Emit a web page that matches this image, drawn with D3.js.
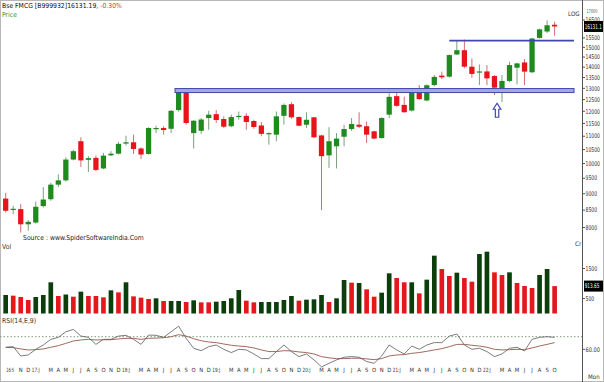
<!DOCTYPE html>
<html>
<head>
<meta charset="utf-8">
<script src="https://cdn.jsdelivr.net/npm/d3@7"></script>
<style>
  body { margin: 0; background: #fff; }
  svg { display: block; font-family: "Liberation Sans Narrow", "DejaVu Sans Condensed", "Liberation Sans", sans-serif; }
</style>
</head>
<body>
<div id="chart"></div>
<script>
// Monthly bars, Sep 2016 .. Oct 2022
const months = [
  "Sep 16","Oct 16","Nov 16","Dec 16",
  "Jan 17","Feb 17","Mar 17","Apr 17","May 17","Jun 17","Jul 17","Aug 17","Sep 17","Oct 17","Nov 17","Dec 17",
  "Jan 18","Feb 18","Mar 18","Apr 18","May 18","Jun 18","Jul 18","Aug 18","Sep 18","Oct 18","Nov 18","Dec 18",
  "Jan 19","Feb 19","Mar 19","Apr 19","May 19","Jun 19","Jul 19","Aug 19","Sep 19","Oct 19","Nov 19","Dec 19",
  "Jan 20","Feb 20","Mar 20","Apr 20","May 20","Jun 20","Jul 20","Aug 20","Sep 20","Oct 20","Nov 20","Dec 20",
  "Jan 21","Feb 21","Mar 21","Apr 21","May 21","Jun 21","Jul 21","Aug 21","Sep 21","Oct 21","Nov 21","Dec 21",
  "Jan 22","Feb 22","Mar 22","Apr 22","May 22","Jun 22","Jul 22","Aug 22","Sep 22","Oct 22"
];

const tickLabels = [
  "16:S","","N","D",
  "17:J","","M","A","M","J","J","A","S","O","N","D",
  "18:J","","M","A","M","J","J","A","S","O","N","D",
  "19:J","","M","A","M","J","J","A","S","O","N","D",
  "20:J","","M","A","M","J","J","A","S","O","N","D",
  "21:J","","M","A","M","J","J","A","S","O","N","D",
  "22:J","","M","A","M","J","J","A","S","O"
];

const open = [8850,8510,8530,8090,8140,8620,8830,9290,9430,10140,10810,10130,10200,9830,10290,10350,
  10720,10770,10540,10340,11280,11320,11290,12050,12820,11120,11210,11720,
  11880,11680,11390,11760,11810,11600,11420,11090,11060,11810,12300,11760,
  11450,11750,11030,10290,10620,10980,11280,11450,11390,11190,10930,11860,
  12650,12270,12030,12880,12460,13150,13590,13540,14630,14850,14020,13760,
  13790,13570,12970,13340,13970,14230,13750,15500,15850,16230];
const high = [9030,8630,8680,8210,8760,9210,9350,9630,10220,10490,10960,10260,10290,10380,10440,10780,
  11020,11060,10580,11350,11410,11390,12050,12970,12880,11640,11720,12020,
  12050,11790,11860,11990,11920,11650,11560,11150,11990,12330,12390,11790,
  11960,11770,11060,11350,11120,11450,11720,11960,11580,11210,11750,12780,
  12820,12630,12930,13150,13180,13620,13780,14630,15380,15410,14430,14130,
  14100,13620,13620,14260,14220,14400,15500,16010,16480,16390];
const low = [8430,8380,7860,7910,8110,8580,8780,9210,9390,10110,9880,9710,9740,9800,10260,10320,
  10650,10340,10160,10320,11120,11060,11120,11990,11450,10540,11090,11250,
  11520,11320,11350,11650,11250,11290,11000,10680,10810,11450,11690,11390,
  11320,10930,8500,9850,9830,10620,11210,11320,10740,10880,10910,11720,
  12190,11940,11990,12490,12420,13090,13430,13490,14600,13940,13490,13150,
  13150,12700,12390,13280,13180,13150,13710,15460,15770,15620];
const close = [8480,8540,8090,8160,8600,8820,9290,9430,10140,10440,10110,10190,9780,10280,10350,10710,
  10770,10520,10320,11320,11320,11240,12020,12880,11520,11610,11660,11860,
  11640,11370,11760,11810,11560,11360,11090,11120,11790,12270,11750,11410,
  11650,10960,10260,10810,10910,11280,11480,11370,11060,10910,11720,12620,
  12230,11960,12880,12520,13140,13530,13510,14600,14850,14020,13670,13790,
  13460,13030,13340,14100,14180,13780,15470,15970,16200,16131.19];

// volume (Cr) and its bar colour (1 = up, 0 = down)
const volume = [617,595,550,450,550,617,1040,583,633,561,728,583,583,539,772,705,
  1040,572,528,483,506,417,417,417,383,439,372,372,394,417,506,783,428,372,383,383,
  383,450,583,428,461,472,617,383,506,1117,1028,1017,806,561,694,1339,1183,1040,
  1040,672,1128,1928,1483,1250,1361,1183,1061,1983,2061,1372,1283,1372,1017,917,
  850,1283,1483,913.65];
const volumeUp = [1,0,0,0,1,1,1,0,1,0,1,0,0,0,1,0,1,0,0,0,1,0,1,1,0,1,0,0,1,1,1,1,0,0,1,1,1,1,1,0,
  1,1,1,0,1,1,0,1,0,0,1,1,0,0,1,0,1,1,0,0,1,0,0,1,1,0,0,1,0,0,0,1,1,0];

// RSI(14) and its 9 period average
const rsi = [61.6,62.1,54.7,55.5,60.0,63.4,67.9,69.5,73.9,75.8,70.5,69.5,63.9,67.9,67.9,70.5,
  71.1,67.9,63.9,71.3,71.1,69.5,73.9,78.4,68.7,60.8,58.9,62.1,63.4,60.0,57.4,60.0,
  59.5,56.3,52.6,52.6,58.2,63.4,58.2,54.2,56.3,51.6,46.0,48.9,51.6,53.7,54.2,53.7,
  50.3,48.9,54.7,63.4,59.5,56.3,62.6,60.0,63.4,65.3,65.3,70.5,72.1,63.4,60.0,60.8,
  58.2,54.2,56.3,60.8,61.6,58.7,67.9,69.5,70.0,69.5];
const rsiSignal = [61.6,61.3,60.3,59.5,59.7,60.3,61.6,62.9,64.7,66.6,67.4,67.9,67.4,67.6,67.6,68.2,
  68.7,68.7,67.9,68.7,68.9,69.2,70.0,71.6,70.5,68.4,66.8,65.8,65.3,64.2,63.2,62.6,
  62.1,61.1,59.5,58.2,58.2,58.9,58.7,57.9,57.4,56.3,54.2,53.2,52.6,52.6,52.9,52.9,
  52.4,51.8,52.6,54.7,55.5,55.8,56.8,57.4,58.4,59.5,60.5,62.1,63.9,63.9,63.2,62.6,
  61.6,60.0,59.5,59.7,60.0,59.7,61.1,62.6,63.9,65.3];

const priceTicks = d3.range(8000, 17001, 500);
const volumeTicks = [500, 1000, 1500];
const rsiTicks = [60];
const rsiLevel = 70;

// drawn levels
const supportLevel = 12900, supportFrom = "Aug 18";
const resistanceLevel = 15350, resistanceFrom = "Aug 21";
const arrowMonth = "Feb 22", arrowPrice = 12340;

const W = 604, H = 382;
const axisX = 582.5, plotRight = 574;

const svg = d3.select("#chart").append("svg")
  .attr("width", W).attr("height", H);

svg.append("rect")
  .attr("x", 0.5).attr("y", 0.5).attr("width", W - 1).attr("height", H - 1)
  .attr("fill", "#fff").attr("stroke", "#b8b8b8");

// scales
const x = d3.scaleBand().domain(months).range([0.8, 559.5]).padding(0.3);
const cx = m => x(m) + x.bandwidth() / 2;
const y = d3.scaleLog().domain([8000, 16500]).range([227.5, 20]);
const yVol = d3.scaleLinear().domain([0, 1000]).range([313.5, 283.5]);
const yRsi = d3.scaleLinear().domain([60, 70]).range([349.3, 336.7]);

const green = "#1f8b1f", red = "#e8141c";
const volGreen = "#0c3d0c", volRed = "#e4181c";
const blue = "#3f48a8";

const candles = months.map((m, i) => ({
  m, o: open[i], h: high[i], l: low[i], c: close[i]
}));

// price panel
svg.append("clipPath").attr("id", "pclip")
  .append("rect").attr("x", 0).attr("y", 2).attr("width", axisX).attr("height", 240);
const price = svg.append("g").attr("clip-path", "url(#pclip)");

price.selectAll(".wick").data(candles).join("line")
  .attr("class", "wick")
  .attr("x1", d => cx(d.m)).attr("x2", d => cx(d.m))
  .attr("y1", d => y(d.h)).attr("y2", d => y(d.l))
  .attr("stroke", d => d.c >= d.o ? "#7aa07a" : "#d07070")
  .attr("stroke-width", 1);

price.selectAll(".body").data(candles).join("rect")
  .attr("class", "body")
  .attr("x", d => x(d.m))
  .attr("width", x.bandwidth())
  .attr("y", d => y(Math.max(d.o, d.c)))
  .attr("height", d => Math.max(1.2, Math.abs(y(d.o) - y(d.c))))
  .attr("fill", d => d.c >= d.o ? green : red);

// support band and resistance line
price.append("rect")
  .attr("x", x(supportFrom) - 1)
  .attr("width", plotRight - x(supportFrom) + 1)
  .attr("y", y(supportLevel) - 2)
  .attr("height", 4)
  .attr("fill", "#a3a9df").attr("stroke", blue).attr("stroke-width", 1);

price.append("line")
  .attr("x1", cx(resistanceFrom)).attr("x2", plotRight)
  .attr("y1", y(resistanceLevel)).attr("y2", y(resistanceLevel))
  .attr("stroke", blue).attr("stroke-width", 1.8);

// up arrow under the retest
const ax = cx(arrowMonth) + 2.6, ay = y(arrowPrice);
price.append("path")
  .attr("d", `M${ax},${ay} L${ax + 3.8},${ay + 6} L${ax + 1.7},${ay + 6} L${ax + 1.7},${ay + 14}
    L${ax - 1.7},${ay + 14} L${ax - 1.7},${ay + 6} L${ax - 3.8},${ay + 6} Z`)
  .attr("fill", "#fff").attr("stroke", blue).attr("stroke-width", 1.2);

// volume panel
svg.selectAll(".vol").data(months).join("rect")
  .attr("class", "vol")
  .attr("x", m => x(m) + 0.3)
  .attr("width", x.bandwidth() - 0.6)
  .attr("y", (m, i) => yVol(volume[i]))
  .attr("height", (m, i) => yVol(0) - yVol(volume[i]))
  .attr("fill", (m, i) => volumeUp[i] ? volGreen : volRed);

// RSI panel
svg.append("line")
  .attr("x1", 0).attr("x2", axisX)
  .attr("y1", yRsi(rsiLevel)).attr("y2", yRsi(rsiLevel))
  .attr("stroke", "#7f9a7f").attr("stroke-width", 1)
  .attr("stroke-dasharray", "1.5,2");

const rsiLine = d3.line().x((d, i) => cx(months[i])).y(d => yRsi(d));
svg.append("path").datum(rsiSignal)
  .attr("d", rsiLine).attr("fill", "none")
  .attr("stroke", "#a06a5c").attr("stroke-width", 1);
svg.append("path").datum(rsi)
  .attr("d", rsiLine).attr("fill", "none")
  .attr("stroke", "#5a5a5a").attr("stroke-width", 0.8);

// right axis
svg.append("line")
  .attr("x1", axisX).attr("x2", axisX).attr("y1", 0).attr("y2", H)
  .attr("stroke", "#555").attr("stroke-width", 1);

const lastClose = close[close.length - 1];
const lastVol = volume[volume.length - 1];

// tick labels hidden behind a value box are left out, as in the source chart
function rightTicks(values, scale, fmt, boxAt) {
  const shown = values.filter(d => Math.abs(scale(d) - boxAt) > 6 && scale(d) > 8);
  const g = svg.append("g");
  g.selectAll("line").data(shown).join("line")
    .attr("x1", axisX).attr("x2", axisX + 2.5)
    .attr("y1", d => scale(d)).attr("y2", d => scale(d))
    .attr("stroke", "#555");
  g.selectAll("text").data(shown).join("text")
    .attr("x", axisX + 3).attr("y", d => scale(d)).attr("dy", "0.35em")
    .attr("font-size", 6.4).attr("fill", "#333")
    .attr("textLength", d => String(fmt(d)).length * 2.9)
    .attr("lengthAdjust", "spacingAndGlyphs")
    .text(fmt);
}
rightTicks(priceTicks.filter(d => d <= 16500), y, d => d, y(lastClose));
rightTicks(volumeTicks, yVol, d => d, yVol(lastVol));
rightTicks(rsiTicks, yRsi, d => d3.format(".2f")(d), -100);

// the 17000 tick sits partly above the panel, squeezed in the source
svg.append("text").attr("x", axisX + 4).attr("y", 13)
  .attr("font-size", 5).attr("fill", "#555")
  .attr("textLength", 11).attr("lengthAdjust", "spacingAndGlyphs")
  .text(priceTicks[priceTicks.length - 1]);

// black value boxes; the label is squeezed horizontally to fit the margin
function valueBox(yy, label) {
  svg.append("rect").attr("x", axisX + 1.5).attr("y", yy - 5.5)
    .attr("width", W - axisX - 2.5).attr("height", 11).attr("fill", "#000");
  const t = svg.append("g").attr("transform", `translate(${axisX + 2.2},${yy})`)
    .append("text").attr("dy", "0.35em")
    .attr("font-size", 6.6).attr("fill", "#fff")
    .text(label);
  const w = t.node().getComputedTextLength();
  const fit = label.length * 2.45;
  if (w > fit) t.attr("transform", `scale(${fit / w},1)`);
}
valueBox(y(lastClose), d3.format(".1f")(Math.floor(lastClose * 10) / 10));
valueBox(yVol(lastVol), d3.format(".2f")(lastVol));

// x axis labels
svg.append("g").selectAll("text").data(months).join("text")
  .attr("x", (m, i) => i === 0 ? cx(m) + 0.5 : cx(m))
  .attr("y", 372)
  .attr("text-anchor", (m, i) => i === 0 ? "start" : "middle")
  .attr("font-size", 5.8).attr("fill", "#333")
  .attr("textLength", (m, i) => tickLabels[i].length > 1 ? 7.8 : null)
  .attr("lengthAdjust", "spacingAndGlyphs")
  .text((m, i) => tickLabels[i]);

// panel titles and notes
const hdr = svg.append("text").attr("x", 2).attr("y", 8).attr("font-size", 6.8);
hdr.append("tspan").attr("fill", "#111").text("Bse FMCG [B999932]16131.19, ");
hdr.append("tspan").attr("fill", "#e23030").text("-0.30%");
svg.append("text").attr("x", 2).attr("y", 17).attr("font-size", 6.8).attr("fill", "#2c9a2c").text("Price");
svg.append("text").attr("x", 568).attr("y", 16).attr("font-size", 6.2).attr("fill", "#333").text("LOG");
svg.append("text").attr("x", 23).attr("y", 240).attr("font-size", 6.8).attr("fill", "#222")
  .text("Source : www.SpiderSoftwareIndia.Com");
svg.append("text").attr("x", 2).attr("y", 249).attr("font-size", 6.8).attr("fill", "#333").text("Vol");
svg.append("text").attr("x", 575).attr("y", 246).attr("font-size", 6.2).attr("fill", "#333").text("Cr");
svg.append("text").attr("x", 2).attr("y", 323).attr("font-size", 6.8).attr("fill", "#333").text("RSI(14,E,9)");
svg.append("text").attr("x", 588).attr("y", 379).attr("font-size", 6.2).attr("fill", "#333").text("Mon");
</script>
</body>
</html>
